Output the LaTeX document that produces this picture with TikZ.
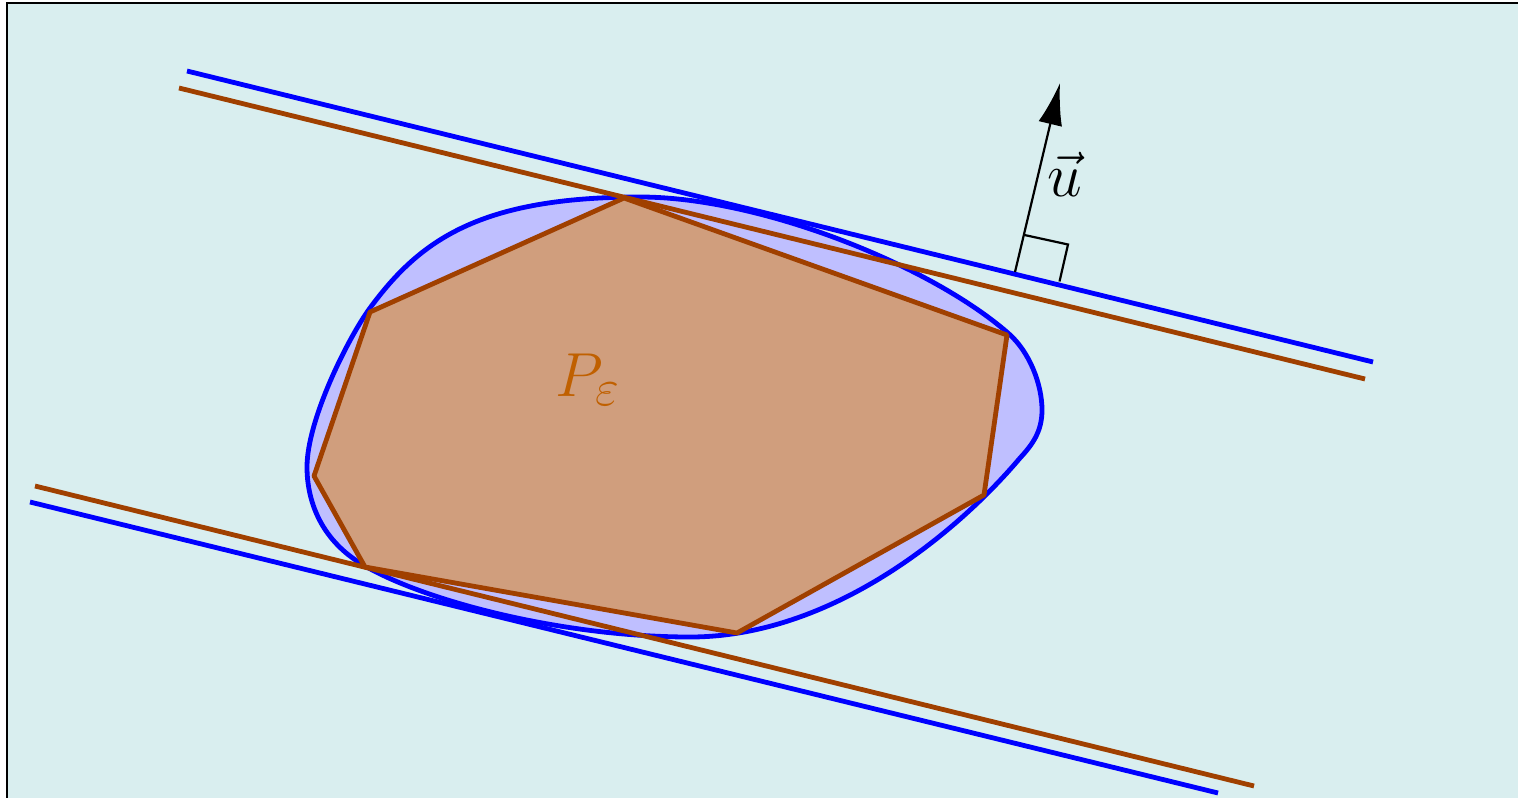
\documentclass[tikz,border=0pt]{standalone}
\usetikzlibrary{arrows.meta}
\definecolor{bgc}{RGB}{217,238,239}
\definecolor{blobfill}{RGB}{191,191,255}
\definecolor{polyfill}{RGB}{208,158,125}
\definecolor{brownline}{RGB}{160,64,0}
\definecolor{labelorange}{RGB}{192,96,0}
\newcommand{\biglbl}[1]{\scalebox{1.25}{\Huge #1}}
\begin{document}
\begin{tikzpicture}[x=0.5pt,y=-0.5pt,
  blueline/.style={draw=blue,line width=2.4pt},
  brownl/.style={draw=brownline,line width=2.4pt}]
\useasboundingbox (0,0) rectangle (1518,797);
\fill[bgc,draw=black,line width=0.8pt] (7,3) rectangle (1540,820);
% blob
\filldraw[fill=blobfill,draw=blue,line width=2.4pt]
 (370,308) .. controls (420,240) and (480,197) .. (640,197)
 .. controls (760,197) and (930,265) .. (1008,333)
 .. controls (1030,352) and (1042,385) .. (1042,410)
 .. controls (1042,432) and (1032,445) .. (1020,458)
 .. controls (955,535) and (830,637) .. (690,637)
 .. controls (560,637) and (420,600) .. (360,563)
 .. controls (320,538) and (307,500) .. (307,467)
 .. controls (307,420) and (348,338) .. (370,308) -- cycle;
% polygon
\filldraw[fill=polyfill,draw=brownline,line width=2.4pt,line join=round]
(624,198) -- (1007,335) -- (984,495) -- (737,633) -- (365,567) -- (314,476) -- (370,312) -- cycle;
\node[text=labelorange] (P) at (588,380) {\biglbl{$P_\varepsilon$}};
% support lines
\coordinate (bt1) at (187,71); \coordinate (bt2) at (1373,362);
\coordinate (rt1) at (179,88); \coordinate (rt2) at (1365,379);
\coordinate (rb1) at (35,486); \coordinate (rb2) at (1254,786);
\coordinate (bb1) at (30,502); \coordinate (bb2) at (1218,793);
\draw[brownl] (rt1) -- (rt2);
\draw[brownl] (rb1) -- (rb2);
\draw[blueline] (bt1) -- (bt2);
\draw[blueline] (bb1) -- (bb2);
% normal vector
\coordinate (base) at (1015,272);
\coordinate (tip) at (1060,83);
\draw[line width=1.1pt,-{Latex[length=21pt,width=12pt]}] (base) -- (tip);
\draw[line width=1.1pt] (1024.5,235) -- (1068,244.5) -- (1059.5,281.5);
\node (u) at (1065,174) {\biglbl{$\vec{u}$}};
\end{tikzpicture}
\end{document}
